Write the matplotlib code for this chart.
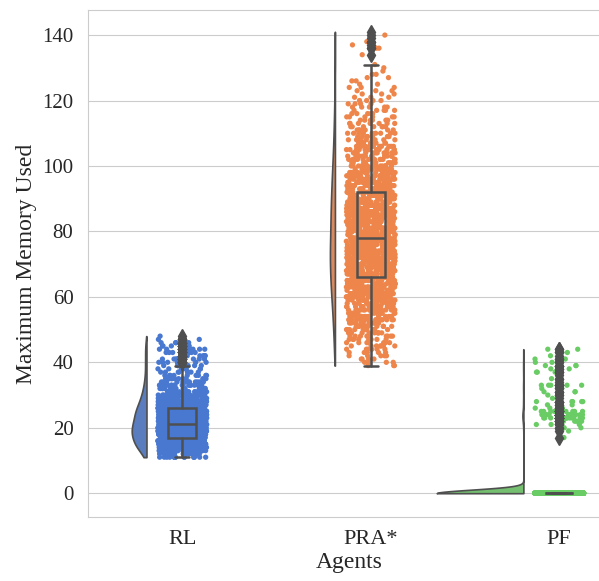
import numpy as np
import pandas as pd
import matplotlib
matplotlib.use("Agg")
import matplotlib.pyplot as plt
import seaborn as sns

agents = ["RL", "PRA*", "PF"]

# value -> how many runs reached it
rl_values = np.arange(11, 49)
rl_counts = [16, 24, 40, 55, 65, 72, 78, 82, 84, 82,
             77, 72, 68, 66, 62, 56, 47, 40, 34, 28,
             23, 19, 16, 13, 11, 9, 8, 7, 8, 8,
             7, 7, 8, 7, 7, 5, 3, 1]

pra_values = np.arange(39, 142)
pra_counts = [3, 4, 4, 5, 5, 6, 7, 7, 8, 9,
              10, 11, 12, 13, 14, 15, 16, 17, 18, 19,
              23, 24, 25, 26, 27, 28, 29, 30, 31, 32,
              32, 33, 33, 34, 34, 34, 34,
              31, 31, 31, 30, 30, 30, 29, 29, 28, 28,
              28, 28, 27, 26, 26, 25, 24, 23, 22, 21,
              21, 20, 19, 18, 17, 15, 15, 14, 13, 12,
              11, 11, 10, 9, 9, 8, 7, 7, 6, 6,
              5, 5, 5, 4, 4, 3, 3, 3, 3, 2,
              2, 2, 2, 1, 1, 1,
              0, 0, 1, 0, 2, 1, 2, 1, 1, 1]

pf_values = [0] + list(range(17, 45))
pf_counts = [2600,
             1, 0, 1, 2, 3, 6, 12, 14, 8, 3,
             2, 5, 1, 2, 3, 2, 5, 1, 2, 1,
             3, 2, 4, 2, 2, 1, 2, 2]

groups = [(rl_values, rl_counts), (pra_values, pra_counts), (pf_values, pf_counts)]
samples = [np.repeat(v, c) for v, c in groups]

sns.set_style("whitegrid")
plt.rcParams["font.family"] = ["Liberation Serif", "DejaVu Serif"]

pal = sns.color_palette("muted", 3)
gray = "#4f4f4f"

fig = plt.figure(figsize=(5.99, 5.81), dpi=100)
ax = fig.add_axes([0.147, 0.110, 0.8715, 0.873])


def kde(data, grid, bw=0.2):
    h = bw * data.std(ddof=1)
    vals, cnt = np.unique(data, return_counts=True)
    z = (grid[:, None] - vals[None, :]) / h
    return (np.exp(-0.5 * z ** 2) * cnt).sum(axis=1) / (len(data) * h * np.sqrt(2 * np.pi))


# half violins (area scaled, cut at data range)
grids = [np.linspace(d.min(), d.max(), 300) for d in samples]
dens = [kde(d, g) for d, g in zip(samples, grids)]
dmax = max(d.max() for d in dens)
half_w = 0.46
off = 0.19
for i, (g, d) in enumerate(zip(grids, dens)):
    w = d / dmax * half_w
    ax.fill_betweenx(g, i - off - w, i - off, facecolor=sns.desaturate(pal[i], 0.75),
                     edgecolor=gray, lw=1.2, zorder=2)

# rain
df = pd.DataFrame({"Agents": np.repeat(agents, [len(s) for s in samples]),
                   "Maximum Memory Used": np.concatenate(samples)})
sns.stripplot(data=df, x="Agents", y="Maximum Memory Used", hue="Agents", order=agents,
              palette=pal, legend=False, jitter=0.13, size=3.8, linewidth=0,
              zorder=3, ax=ax)

ax.boxplot(samples, positions=[0, 1, 2], widths=0.15, patch_artist=True,
           manage_ticks=False, zorder=10,
           boxprops=dict(facecolor="none", edgecolor=gray, linewidth=1.8),
           whiskerprops=dict(color=gray, linewidth=1.8),
           capprops=dict(color=gray, linewidth=1.8),
           medianprops=dict(color=gray, linewidth=1.8),
           flierprops=dict(marker="d", markerfacecolor=gray, markeredgecolor=gray,
                           markersize=7))

ax.set_xlim(-0.5, 2.27)
ax.set_ylim(-7.3, 147.7)
ax.set_yticks(np.arange(0, 141, 20))
ax.xaxis.grid(False)
ax.tick_params(axis="y", labelsize=15, pad=7)
ax.tick_params(axis="x", labelsize=16, pad=6)
ax.set_xlabel("Agents", fontsize=17, labelpad=2)
ax.set_ylabel("Maximum Memory Used", fontsize=17)

fig.savefig("out.png", dpi=100)
